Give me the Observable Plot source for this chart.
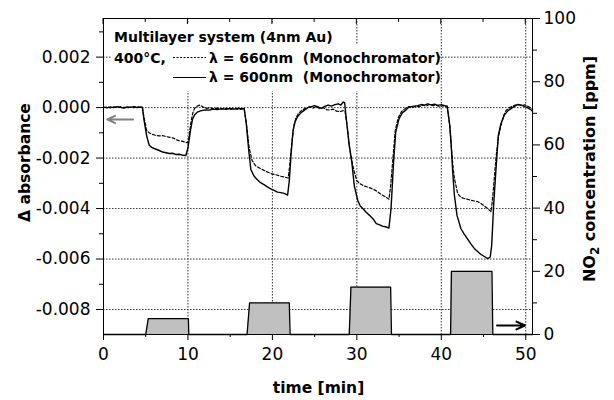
<!DOCTYPE html>
<html><head><meta charset="utf-8">
<script src="https://cdn.jsdelivr.net/npm/d3@7"></script>
<script src="https://cdn.jsdelivr.net/npm/@observablehq/plot@0.6"></script>
<style>
body{margin:0;background:#fff;}
#chart svg{display:block;}
</style></head><body><div id="chart"></div>
<script>
// [time (min), Δ absorbance] — λ = 600 nm (solid)
const solid600 = [
[0,0.00002],[0.4,-0.00001],[0.8,0.00003],[1.2,0.0],[1.6,0.00004],[2.0,0.00001],[2.4,-0.00002],[2.8,0.00003],[3.2,0.00001],[3.6,0.00004],[4.0,0.0],[4.4,0.00003],[4.6,0.00002],
[4.8,-0.0005],[5.1,-0.0011],[5.4,-0.00148],[5.7,-0.00158],[6.0,-0.00162],[6.6,-0.0017],[7.0,-0.00176],[7.4,-0.00179],[7.8,-0.00182],[8.2,-0.00181],[8.6,-0.00186],[9.0,-0.00185],[9.4,-0.00189],[9.75,-0.0019],
[10.0,-0.0016],[10.3,-0.0009],[10.55,-0.00045],[10.8,-0.00028],[11.1,-0.00018],[11.5,-0.00013],[12,-0.00009],[12.5,-0.0001],[13,-0.00006],[13.5,-0.00008],[14,-0.00004],[14.5,-0.00007],[15,-0.00003],[15.5,-0.00006],[16,-0.00002],[16.4,-0.00005],[16.66,-0.00003],
[16.9,-0.0006],[17.2,-0.0017],[17.45,-0.00245],[17.8,-0.0027],[18.1,-0.00282],[18.5,-0.00295],[19.0,-0.00305],[19.4,-0.00314],[19.8,-0.00322],[20.2,-0.00328],[20.6,-0.00335],[21.0,-0.00337],[21.4,-0.0034],[21.8,-0.00347],
[22.0,-0.0029],[22.2,-0.0019],[22.45,-0.0009],[22.7,-0.00055],[23.0,-0.00035],[23.4,-0.0002],[23.8,-0.0001],[24.2,0.0],[24.6,0.00004],[25,0.00008],[25.4,0.00003],[25.8,-0.00003],[26.2,0.00005],[26.6,0.0001],[27,0.00006],[27.4,0.00012],[27.8,0.00015],[28.1,0.0001],[28.4,0.00022],[28.55,0.0002],
[28.8,-0.0006],[29.1,-0.0015],[29.4,-0.00215],[29.7,-0.0031],[30.1,-0.00367],[30.4,-0.0039],[30.7,-0.004],[31.1,-0.00415],[31.5,-0.00427],[31.9,-0.0044],[32.3,-0.0046],[32.7,-0.00465],[33.05,-0.0047],[33.4,-0.00472],[33.8,-0.00477],
[34.05,-0.004],[34.35,-0.00215],[34.6,-0.00097],[35.0,-0.00044],[35.4,-0.0002],[35.8,-0.0001],[36.2,0.00003],[36.6,0.00005],[37.2,0.00008],[37.6,0.00012],[38,0.0001],[38.4,0.00015],[38.8,0.00011],[39.2,0.00014],[39.6,0.00009],[40,0.00012],[40.4,0.00008],[40.7,0.00006],
[41.0,-0.0007],[41.15,-0.00136],[41.35,-0.00255],[41.55,-0.00347],[41.86,-0.00427],[42.33,-0.0048],[42.7,-0.005],[43.1,-0.0052],[43.5,-0.0054],[43.9,-0.00558],[44.3,-0.0057],[44.7,-0.00582],[45.1,-0.0059],[45.5,-0.00598],[45.8,-0.00592],
[45.97,-0.00545],[46.2,-0.00387],[46.48,-0.00242],[46.75,-0.0011],[47.07,-0.00063],[47.46,-0.0003],[47.9,-0.00012],[48.26,-0.00004],[48.7,0.00006],[49.05,0.00012],[49.5,0.0001],[49.9,0.00004],[50.2,0.0],[50.6,-0.00008],[50.8,-0.00015]
];
// [time (min), Δ absorbance] — λ = 660 nm (dashed)
const dashed660 = [
[0,0.0],[0.4,0.00002],[0.8,-0.00001],[1.2,0.00003],[1.6,0.0],[2.0,0.00003],[2.4,0.00001],[2.8,-0.00001],[3.2,0.00002],[3.6,0.0],[4.0,0.00003],[4.4,0.00001],[4.6,0.0],
[4.8,-0.0004],[5.1,-0.0009],[5.4,-0.001],[5.8,-0.00106],[6.2,-0.0011],[6.6,-0.00112],[7.0,-0.00111],[7.6,-0.00116],[8.2,-0.0012],[8.8,-0.0013],[9.4,-0.00134],[9.95,-0.0014],
[10.1,-0.0012],[10.35,-0.0006],[10.55,-0.00024],[10.8,-0.00002],[11.1,0.00006],[11.4,0.0001],[11.8,0.00002],[12.2,-0.00003],[12.6,0.0],[13,-0.00005],[13.5,-0.00002],[14,-0.00006],[14.5,-0.00003],[15,-0.00007],[15.5,-0.00004],[16,-0.00008],[16.4,-0.00005],[16.66,-0.00006],
[16.9,-0.0006],[17.25,-0.0016],[17.6,-0.0021],[18.0,-0.0023],[18.6,-0.00242],[19.2,-0.00252],[19.8,-0.00261],[20.4,-0.00266],[21.0,-0.00272],[21.5,-0.00276],[21.87,-0.00279],
[22.05,-0.0023],[22.3,-0.0014],[22.55,-0.0007],[22.8,-0.0004],[23.1,-0.00022],[23.5,-0.0001],[24,-0.00002],[24.4,0.00003],[24.8,-0.00002],[25.2,0.00004],[25.6,-0.00004],[26,0.0],[26.4,-0.00008],[26.8,-0.0001],[27.2,-0.00006],[27.6,-0.00014],[28,-0.00016],[28.4,-0.00012],[28.6,-0.00015],
[28.85,-0.0007],[29.1,-0.0015],[29.4,-0.0021],[29.7,-0.00255],[30.0,-0.0029],[30.3,-0.003],[30.8,-0.0031],[31.3,-0.00315],[31.7,-0.0032],[32.2,-0.00328],[32.6,-0.00337],[33.05,-0.00347],[33.5,-0.00356],[33.8,-0.00363],
[34.0,-0.0031],[34.3,-0.0019],[34.55,-0.0009],[34.9,-0.0004],[35.3,-0.00015],[35.8,-0.00002],[36.2,0.00004],[36.6,0.0],[37,0.00006],[37.4,0.00003],[37.8,0.0001],[38.2,0.00006],[38.6,0.00012],[39,0.00008],[39.4,0.0001],[39.8,0.00004],[40.2,0.00008],[40.7,0.00003],
[41.0,-0.0007],[41.2,-0.0016],[41.4,-0.0024],[41.55,-0.0028],[41.94,-0.0034],[42.3,-0.00355],[42.7,-0.0036],[43.3,-0.00365],[43.9,-0.0037],[44.3,-0.00372],[44.7,-0.0038],[45.1,-0.0039],[45.5,-0.004],[45.9,-0.00413],
[46.1,-0.0035],[46.5,-0.0019],[46.8,-0.0011],[47.07,-0.0007],[47.4,-0.0003],[47.7,-0.0001],[48.1,0.0],[48.6,0.00008],[49.05,0.00013],[49.5,0.00008],[49.9,0.00011],[50.3,0.00004],[50.8,-0.00006]
];
// NO2 concentration steps
const concTime = [0,5,5.3,10.05,10.1,17,17.3,22,22.1,29.1,29.3,34,34.1,41.1,41.2,46,46.1,50.8];
const concPpm  = [0,0,5,5,0,0,10,10,0,0,15,15,0,0,20,20,0,0];

const xTicks = [0,10,20,30,40,50];
const xMinorTicks = [5,15,25,35,45];
const topTicks = [0,5,10,15,20,25,30,35,40,45,50];
const yTicks = [-0.008,-0.006,-0.004,-0.002,0,0.002];
const yMinorTicks = [-0.007,-0.005,-0.003,-0.001,0.001,0.003];
const ppmTicks = [0,20,40,60,80,100];
const ppmMinorTicks = [10,30,50,70,90];

const legendTitle = "Multilayer system (4nm Au)";
const legendTemp = "400°C,";
const legendSeries = ["λ = 660nm  (Monochromator)", "λ = 600nm  (Monochromator)"];
const xTitle = "time [min]";
const yTitle = "Δ absorbance";
const y2TitleParts = ["NO", "2", " concentration [ppm]"];

// annotation arrows: which axis each points to
const leftArrow = {from: 3.5, to: 0.45, abs: -0.00047};
const rightArrow = {from: 46.6, to: 49.9, ppm: 2.85};

const yLo = -0.00899, yHi = 0.00353;
const c2y = c => yLo + c / 100 * (yHi - yLo);
const y2c = v => (v - yLo) / (yHi - yLo) * 100;
const conc = concTime.map((t, i) => ({t, y: c2y(concPpm[i])}));
const fmtAbs = d => Math.abs(d) < 1e-9 ? "0.000" : d.toFixed(3);
const font = "'DejaVu Sans', sans-serif";
const gridStyle = {stroke: "#333", strokeWidth: 1, strokeDasharray: "1.5,1.5"};

const arrows = [
  {x1: leftArrow.from, x2: leftArrow.to, y1: leftArrow.abs, y2: leftArrow.abs, c: "#808080"},
  {x1: rightArrow.from, x2: rightArrow.to, y1: c2y(rightArrow.ppm), y2: c2y(rightArrow.ppm), c: "#000"}
];

const chart = Plot.plot({
  width: 614, height: 400,
  marginLeft: 103, marginRight: 82, marginTop: 18, marginBottom: 66,
  x: {domain: [0, 50.8], label: null},
  y: {domain: [yLo, yHi], label: null},
  style: {fontFamily: font, fontSize: "17px", background: "#fff", color: "#000", overflow: "visible"},
  marks: [
    Plot.ruleX(xTicks.filter(d => d > 0), {x: d => d, ...gridStyle}),
    Plot.ruleY(yTicks, {y: d => d, ...gridStyle}),
    Plot.areaY(conc, {x: "t", y1: yLo, y2: "y", fill: "#c0c0c0"}),
    Plot.line(conc, {x: "t", y: "y", stroke: "#000", strokeWidth: 1.3}),
    Plot.line(dashed660, {x: d => d[0], y: d => d[1], stroke: "#000", strokeWidth: 1.2, strokeDasharray: "3,2"}),
    Plot.line(solid600, {x: d => d[0], y: d => d[1], stroke: "#000", strokeWidth: 1.4}),
    Plot.arrow(arrows, {x1: "x1", y1: "y1", x2: "x2", y2: "y2", stroke: "c", strokeWidth: 2, headLength: 7, headAngle: 50}),
    Plot.frame({stroke: "#000", strokeWidth: 1}),
    Plot.axisY(yTicks, {anchor: "left", tickSize: 7, tickPadding: 6, tickFormat: fmtAbs, label: null, fontSize: 17}),
    Plot.axisY(yMinorTicks, {anchor: "left", tickSize: 4, tickFormat: () => "", label: null}),
    Plot.axisY(ppmTicks.map(c2y), {anchor: "right", tickSize: 7, tickPadding: 4, tickFormat: d => String(Math.round(y2c(d))), label: null, fontSize: 17}),
    Plot.axisY(ppmMinorTicks.map(c2y), {anchor: "right", tickSize: 4, tickFormat: () => "", label: null}),
    Plot.axisX(xTicks, {anchor: "bottom", tickSize: 6, tickPadding: 7, label: null, fontSize: 17}),
    Plot.axisX(xMinorTicks, {anchor: "bottom", tickSize: 3, tickFormat: () => "", label: null})
  ]
});
document.getElementById("chart").appendChild(chart);

const svg = d3.select(chart);
const xs = chart.scale("x"), ys = chart.scale("y");
const frameTop = ys.apply(yHi);

svg.append("g").attr("stroke", "#000")
  .selectAll("line").data(topTicks).join("line")
  .attr("x1", d => xs.apply(d)).attr("x2", d => xs.apply(d))
  .attr("y1", frameTop).attr("y2", d => frameTop + (d % 10 === 0 ? 6 : 4));

// legend (white backing, then texts and samples)
const lg = svg.append("g");
lg.append("rect").attr("x", 112).attr("y", 24).attr("width", 222).attr("height", 22).attr("fill", "#fff");
lg.append("rect").attr("x", 112).attr("y", 44).attr("width", 325).attr("height", 47).attr("fill", "#fff");
const lt = lg.append("g").attr("font-family", font).attr("font-weight", "bold").attr("font-size", 14)
  .attr("text-anchor", "start").style("white-space", "pre");
lt.append("text").attr("x", 114).attr("y", 41.7).text(legendTitle);
lt.append("text").attr("x", 114).attr("y", 63).text(legendTemp);
lg.append("line").attr("x1", 173).attr("x2", 206).attr("y1", 57.5).attr("y2", 57.5).attr("stroke", "#000").attr("stroke-dasharray", "2,1.5");
lt.append("text").attr("x", 209).attr("y", 63).text(legendSeries[0]);
lg.append("line").attr("x1", 173).attr("x2", 206).attr("y1", 77.5).attr("y2", 77.5).attr("stroke", "#000").attr("stroke-width", 1.2);
lt.append("text").attr("x", 209).attr("y", 82).text(legendSeries[1]);

// axis titles
const tg = svg.append("g").attr("font-family", font).attr("font-weight", "bold").attr("font-size", 15.5).attr("text-anchor", "middle");
tg.append("text").attr("x", 318.5).attr("y", 392.5).text(xTitle);
tg.append("text").attr("transform", "translate(30,162.5) rotate(-90)").text(yTitle);
const rt = tg.append("text").attr("font-size", 16).attr("transform", "translate(595,169) rotate(-90)");
rt.append("tspan").text(y2TitleParts[0]);
rt.append("tspan").attr("font-size", 12).attr("dy", 4).text(y2TitleParts[1]);
rt.append("tspan").attr("dy", -4).text(y2TitleParts[2]);
</script></body></html>
